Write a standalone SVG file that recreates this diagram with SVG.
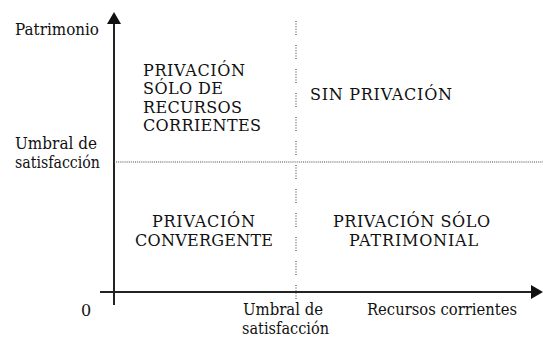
<svg xmlns="http://www.w3.org/2000/svg" width="543" height="339" viewBox="0 0 543 339">
<style>
text{font-family:'DejaVu Serif',serif;fill:#111;}
.lab{font-size:16px;}
.q{font-size:16px;}
.axis{stroke:#222;stroke-width:2;fill:none;}
.dotv{stroke:#555;stroke-width:1.2;fill:none;stroke-dasharray:1 1.6 1 1.6 1 1.6 1 1.6 1 1.6 1 10;}
.doth{stroke:#444;stroke-width:1.2;fill:none;stroke-dasharray:1 1.1;}
</style>
<rect width="543" height="339" fill="#fff"/>
<g id="connectors">
<line class="axis" x1="114" y1="22" x2="114" y2="305"/>
<polygon points="114,12 107,24 121,24" fill="#111"/>
<line class="axis" x1="100" y1="292" x2="533" y2="292"/>
<polygon points="543,292 531,285 531,299" fill="#111"/>
<line class="dotv" x1="296" y1="21" x2="296" y2="305"/>
<line class="doth" x1="114" y1="162" x2="543" y2="162"/>
</g>
<g id="axis-labels">
<text class="lab" x="15" y="35" textLength="84" lengthAdjust="spacingAndGlyphs">Patrimonio</text>
<text class="lab" x="15" y="149" textLength="82" lengthAdjust="spacingAndGlyphs">Umbral de</text>
<text class="lab" x="15" y="168" textLength="85" lengthAdjust="spacingAndGlyphs">satisfacción</text>
<text class="lab" x="81" y="316">0</text>
<text class="lab" x="243" y="315" textLength="80" lengthAdjust="spacingAndGlyphs">Umbral de</text>
<text class="lab" x="242" y="334" textLength="87" lengthAdjust="spacingAndGlyphs">satisfacción</text>
<text class="lab" x="367" y="315" textLength="150" lengthAdjust="spacingAndGlyphs">Recursos corrientes</text>
</g>
<g id="q-top-left">
<text class="q" x="143" y="76" textLength="102" lengthAdjust="spacing">PRIVACIÓN</text>
<text class="q" x="143" y="94" textLength="80" lengthAdjust="spacing">SÓLO DE</text>
<text class="q" x="143" y="113" textLength="99" lengthAdjust="spacing">RECURSOS</text>
<text class="q" x="143" y="131" textLength="118" lengthAdjust="spacing">CORRIENTES</text>
</g>
<g id="q-top-right">
<text class="q" x="310" y="100" textLength="142" lengthAdjust="spacing">SIN PRIVACIÓN</text>
</g>
<g id="q-bottom-left">
<text class="q" x="152" y="227" textLength="103" lengthAdjust="spacing">PRIVACIÓN</text>
<text class="q" x="135" y="246" textLength="138" lengthAdjust="spacing">CONVERGENTE</text>
</g>
<g id="q-bottom-right">
<text class="q" x="333" y="227" textLength="157" lengthAdjust="spacing">PRIVACIÓN SÓLO</text>
<text class="q" x="349" y="246" textLength="129" lengthAdjust="spacing">PATRIMONIAL</text>
</g>
</svg>
